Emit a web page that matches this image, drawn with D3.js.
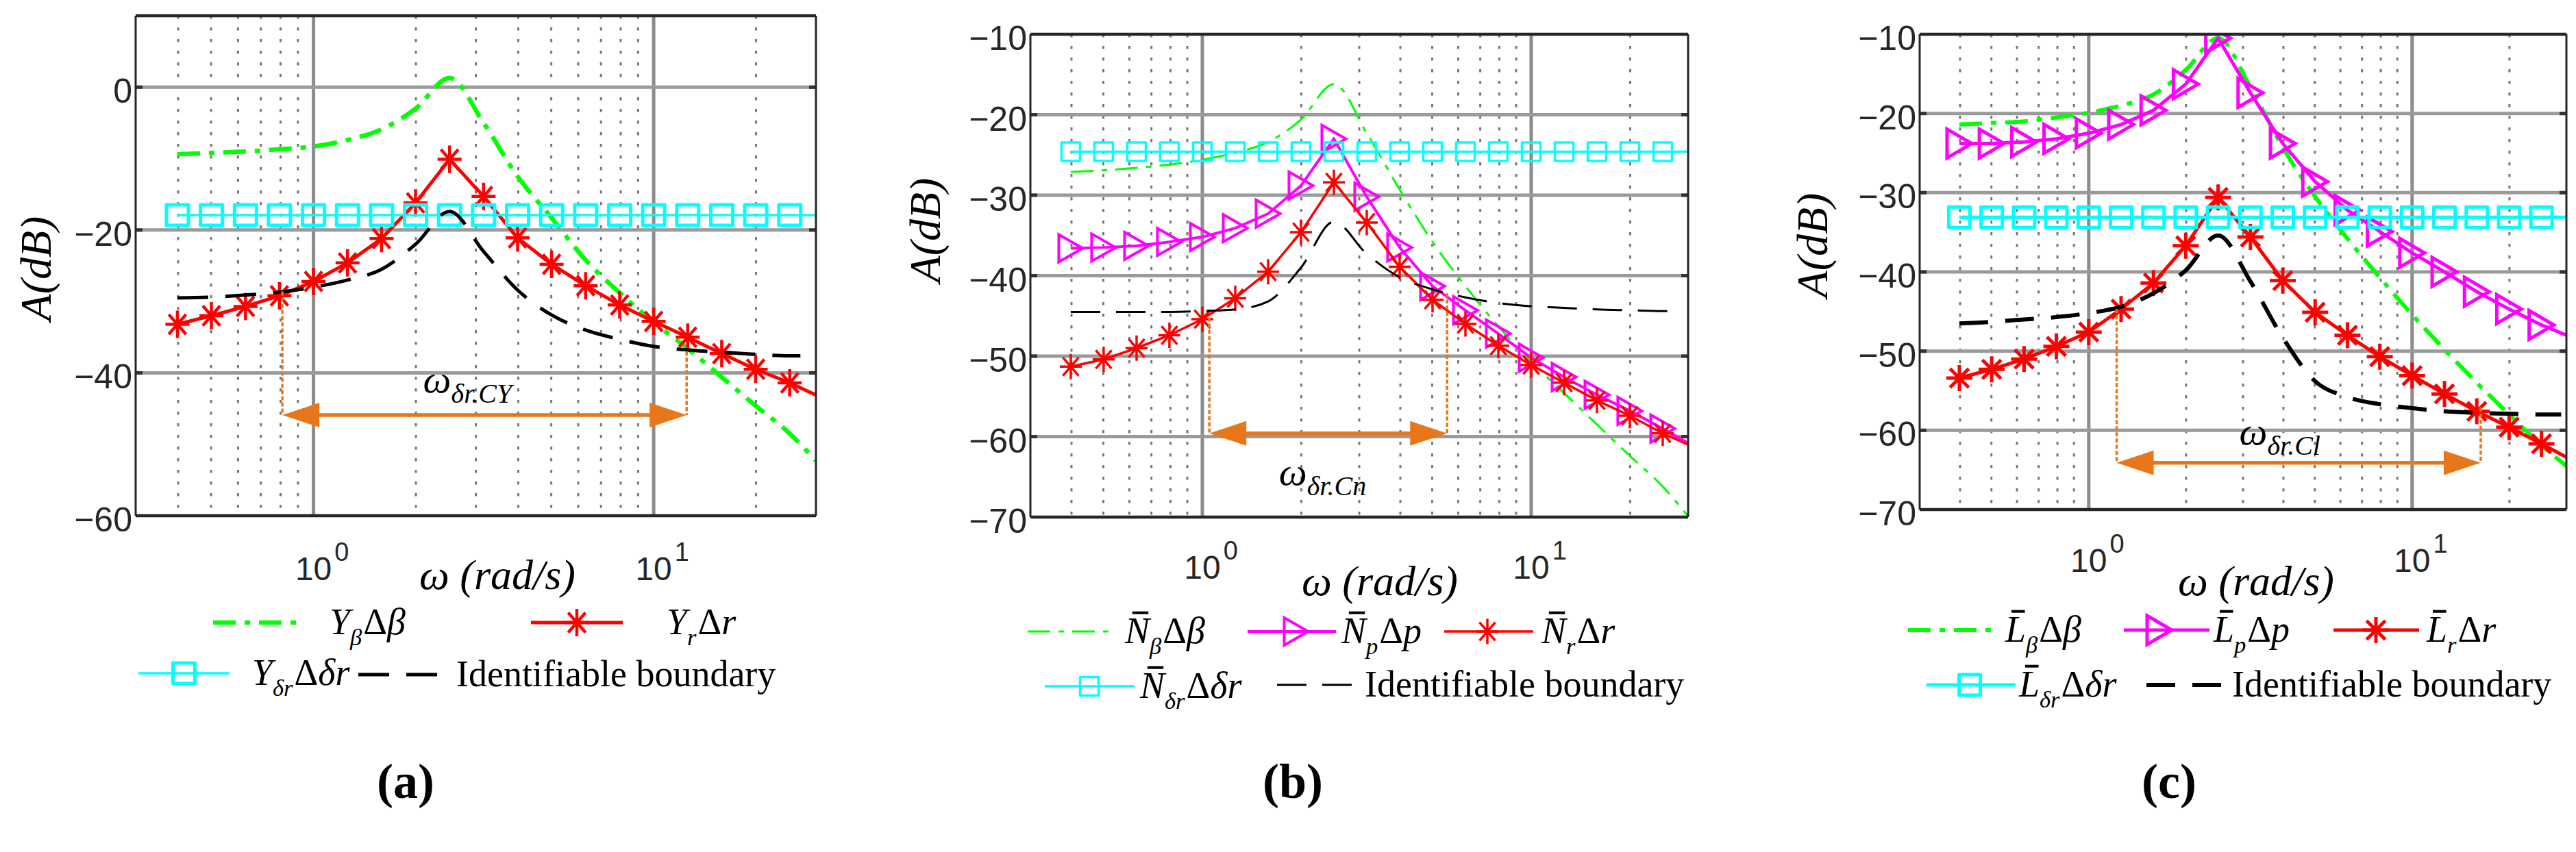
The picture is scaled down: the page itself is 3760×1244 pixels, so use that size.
<!DOCTYPE html>
<html>
<head>
<meta charset="utf-8">
<script src="https://cdn.jsdelivr.net/npm/d3@7"></script>
<style>
  body { margin: 0; background: #fff; }
  svg { display: block; }
</style>
</head>
<body>
<svg id="fig"></svg>
<script>
// frequency grid (rad/s); markers sit on the first 19 points, lines run on to 30
const freqs = [0.398, 0.501, 0.631, 0.794, 1.0, 1.259, 1.585, 1.995, 2.512, 3.162,
               3.981, 5.012, 6.310, 7.943, 10.0, 12.59, 15.85, 19.95, 25.12, 30.0];

// panel (a)  -- A(dB)
const betaA  = [-9.4, -9.2, -9.0, -8.7, -8.3, -7.4, -5.9, -3.0, 1.3, -5.0,
                -12.5, -18.3, -24.2, -28.8, -32.9, -36.6, -40.6, -44.6, -48.5, -52.3];
const rA     = [-33.2, -32.0, -30.7, -29.2, -27.2, -24.6, -21.2, -16.2, -10.1, -15.3,
                -21.1, -24.8, -27.8, -30.5, -32.8, -35.0, -37.3, -39.5, -41.4, -43.1];
const drA    = -17.9;
const bndA   = [-29.5, -29.4, -29.1, -28.7, -28.0, -27.0, -25.5, -22.0, -17.4, -23.0,
                -28.4, -31.9, -34.0, -35.3, -36.3, -36.8, -37.1, -37.4, -37.6];
const bndEndA = [27.0, -37.6];
const bandA  = [0.81, 12.5, -45.9, -28.6, -37.0];   // lo, hi, arrow level, top at lo, top at hi
const noteA  = [2.1, -42.7];

// panel (b)
const betaB  = [-27.1, -26.9, -26.6, -26.2, -25.6, -24.7, -23.4, -20.6, -16.2, -22.3,
                -29.3, -35.8, -41.3, -46.3, -50.7, -54.6, -58.5, -62.4, -66.2, -69.9];
const pB     = [-36.6, -36.5, -36.3, -35.8, -35.2, -34.1, -32.3, -28.8, -23.0, -30.2,
                -36.5, -41.3, -44.3, -47.2, -50.2, -52.6, -54.8, -56.8, -59.0, -60.8];
const rB     = [-51.3, -50.4, -49.0, -47.4, -45.4, -42.8, -39.5, -34.6, -28.4, -33.4,
                -38.9, -43.0, -46.0, -48.7, -51.1, -53.3, -55.5, -57.4, -59.6, -61.0];
const drB    = -24.6;
const bndB   = [-44.5, -44.5, -44.5, -44.5, -44.4, -44.2, -43.2, -39.0, -33.3, -37.3,
                -40.2, -41.7, -42.7, -43.4, -43.8, -44.0, -44.2, -44.3, -44.4];
const bndEndB = [27.6, -44.4];
const bandB  = [1.05, 5.55, -59.6, -45.2, -42.2];
const noteB  = [1.71, -66.0];

// panel (c)
const betaC  = [-21.4, -21.2, -21.0, -20.5, -19.9, -19.0, -17.6, -14.5, -10.5, -16.7,
                -24.3, -30.5, -35.8, -40.7, -45.4, -49.8, -54.0, -58.0, -61.9, -64.5];
const pC     = [-23.8, -23.8, -23.6, -23.2, -22.5, -21.4, -19.6, -16.3, -10.5, -17.4,
                -23.8, -28.6, -32.2, -34.9, -37.6, -40.0, -42.5, -44.7, -46.7, -48.0];
const rC     = [-53.4, -52.3, -51.0, -49.4, -47.6, -44.7, -41.4, -36.7, -30.6, -35.6,
                -41.1, -45.1, -48.0, -50.7, -53.1, -55.4, -57.6, -59.6, -61.7, -63.4];
const drC    = -33.1;
const bndC   = [-46.5, -46.3, -46.0, -45.7, -45.2, -44.4, -42.7, -39.8, -35.4, -41.2,
                -48.3, -53.8, -55.8, -56.7, -57.2, -57.6, -57.8, -57.9, -58.0];
const bndEndC = [28.9, -58.0];
const bandC  = [1.22, 16.3, -64.1, -44.7, -57.1];
const noteC  = [2.92, -61.8];

const xDomain = [0.3, 30];
const xMajor = [1, 10];
const xMinor = [0.4, 0.5, 0.6, 0.7, 0.8, 0.9, 2, 3, 4, 5, 6, 7, 8, 9, 20];
const yTicksA = [0, -20, -40, -60];
const yTicksBC = [-10, -20, -30, -40, -50, -60, -70];

const SERIF = "'Liberation Serif','Times New Roman',serif";
const SANS = "'Liberation Sans',Arial,sans-serif";
const GREEN = "#00ff00", RED = "#ff0000", CYAN = "#00ffff", MAG = "#ff00ff", ORANGE = "#e8761a";

const svg = d3.select("#fig").attr("width", 3760).attr("height", 1244);
svg.append("rect").attr("width", 3760).attr("height", 1244).attr("fill", "#fff");

const zip = (vals, n) => vals.slice(0, n || vals.length).map((v, i) => [freqs[i], v]);

const panels = [
  {
    id: "a", box: [198, 1191, 23, 753], yDom: [-60, 10], yTicks: yTicksA, yGrid: [0, -20, -40],
    ylab: [52, 392], xlabY: 847, omega: [726, 860], tag: [592, 1165],
    lw: {g: 6.5, p: 5, r: 5, c: 3.5, b: 5}, gDash: "33,13,8,13", bDash: "45,25",
    star: [17.5, 20, 4.5], tri: [18, 21, 5], sq: [32, 30, 5],
    series: {g: betaA, r: rA, c: drA, b: bndA, bEnd: bndEndA},
    band: bandA, note: noteA, noteSub: "δr.CY",
    legend: [
      {type: "g", x1: 311, x2: 440, y: 909, tx: 481, segs: [{t: "Y", i: 1}, {t: "β", sub: 1, i: 1}, {t: "Δ"}, {t: "β", i: 1}]},
      {type: "r", x1: 775, x2: 909, y: 909, tx: 973, segs: [{t: "Y", i: 1}, {t: "r", sub: 1, i: 1}, {t: "Δ"}, {t: "r", i: 1}]},
      {type: "c", x1: 202, x2: 335, y: 983, tx: 368, segs: [{t: "Y", i: 1}, {t: "δr", sub: 1, i: 1}, {t: "Δ"}, {t: "δr", i: 1}]},
      {type: "b", x1: 523, x2: 638, y: 985, tx: 666, segs: [{t: "Identifiable boundary"}]}
    ]
  },
  {
    id: "b", box: [1504, 2464, 50, 755], yDom: [-70, -10], yTicks: yTicksBC, yGrid: [-20, -30, -40, -50, -60],
    ylab: [1350, 336], xlabY: 845, omega: [2014, 869], tag: [1887, 1165],
    lw: {g: 3, p: 4, r: 3.5, c: 3.5, b: 3}, gDash: "33,12,8,12", bDash: "43,23",
    star: [16, 18.5, 3.5], tri: [17.5, 20, 4], sq: [27, 27, 3.5],
    series: {g: betaB, p: pB, r: rB, c: drB, b: bndB, bEnd: bndEndB},
    band: bandB, note: noteB, noteSub: "δr.Cn",
    legend: [
      {type: "g", x1: 1500, x2: 1625, y: 922, tx: 1642, segs: [{t: "N", i: 1, bar: 1}, {t: "β", sub: 1, i: 1}, {t: "Δ"}, {t: "β", i: 1}]},
      {type: "p", x1: 1821, x2: 1950, y: 922, mx: 1892, tx: 1958, segs: [{t: "N", i: 1, bar: 1}, {t: "p", sub: 1, i: 1}, {t: "Δ"}, {t: "p", i: 1}]},
      {type: "r", x1: 2108, x2: 2238, y: 922, mx: 2171, tx: 2250, segs: [{t: "N", i: 1, bar: 1}, {t: "r", sub: 1, i: 1}, {t: "Δ"}, {t: "r", i: 1}]},
      {type: "c", x1: 1525, x2: 1656, y: 1002, mx: 1590, tx: 1664, segs: [{t: "N", i: 1, bar: 1}, {t: "δr", sub: 1, i: 1}, {t: "Δ"}, {t: "δr", i: 1}]},
      {type: "b", x1: 1864, x2: 1975, y: 1000, tx: 1992, segs: [{t: "Identifiable boundary"}]}
    ]
  },
  {
    id: "c", box: [2802, 3746, 50, 744], yDom: [-70, -10], yTicks: yTicksBC, yGrid: [-20, -30, -40, -50, -60],
    ylab: [2645, 358], xlabY: 835, omega: [3293, 869], tag: [3166, 1165],
    lw: {g: 6, p: 5, r: 5, c: 5, b: 6}, gDash: "33,13,8,13", bDash: "42,25",
    star: [19, 19, 5], tri: [18, 21, 5], sq: [31, 30, 5],
    series: {g: betaC, p: pC, r: rC, c: drC, b: bndC, bEnd: bndEndC},
    band: bandC, note: noteC, noteSub: "δr.Cl",
    legend: [
      {type: "g", x1: 2785, x2: 2910, y: 920, tx: 2927, segs: [{t: "L", i: 1, bar: 1}, {t: "β", sub: 1, i: 1}, {t: "Δ"}, {t: "β", i: 1}]},
      {type: "p", x1: 3100, x2: 3225, y: 920, mx: 3152, tx: 3231, segs: [{t: "L", i: 1, bar: 1}, {t: "p", sub: 1, i: 1}, {t: "Δ"}, {t: "p", i: 1}]},
      {type: "r", x1: 3406, x2: 3531, y: 920, mx: 3468, tx: 3542, segs: [{t: "L", i: 1, bar: 1}, {t: "r", sub: 1, i: 1}, {t: "Δ"}, {t: "r", i: 1}]},
      {type: "c", x1: 2812, x2: 2942, y: 1000, mx: 2875, tx: 2947, segs: [{t: "L", i: 1, bar: 1}, {t: "δr", sub: 1, i: 1}, {t: "Δ"}, {t: "δr", i: 1}]},
      {type: "b", x1: 3133, x2: 3243, y: 1000, tx: 3258, segs: [{t: "Identifiable boundary"}]}
    ]
  }
];

// ---- marker shapes ----
function drawStar(g, cx, cy, st, color) {
  const [rx, ry, w] = st;
  const dx = rx * 0.72, dy = ry * 0.72;
  g.append("path")
    .attr("d", `M${cx - rx},${cy}H${cx + rx}M${cx},${cy - ry}V${cy + ry}` +
               `M${cx - dx},${cy - dy}L${cx + dx},${cy + dy}M${cx - dx},${cy + dy}L${cx + dx},${cy - dy}`)
    .attr("stroke", color).attr("stroke-width", w).attr("fill", "none");
}
function drawTri(g, cx, cy, tr, color) {
  const [a, h, w] = tr;
  g.append("path")
    .attr("d", `M${cx - a},${cy - h}L${cx + a},${cy}L${cx - a},${cy + h}Z`)
    .attr("stroke", color).attr("stroke-width", w).attr("fill", "none")
    .attr("stroke-linejoin", "miter");
}
function drawSq(g, cx, cy, sq, color) {
  const [sw, sh, w] = sq;
  g.append("rect").attr("x", cx - sw / 2).attr("y", cy - sh / 2).attr("width", sw).attr("height", sh)
    .attr("stroke", color).attr("stroke-width", w).attr("fill", "none").attr("stroke-linejoin", "round");
}

// text made of pieces: italic letters, subscripts, overbars
function richText(g, x, y, segs, size) {
  let cx = x;
  segs.forEach(s => {
    const fs = s.sub ? size * 0.64 : size;
    const t = g.append("text")
      .attr("x", cx).attr("y", y + (s.sub ? size * 0.3 : 0))
      .attr("font-family", SERIF)
      .attr("font-style", s.i ? "italic" : "normal")
      .attr("font-size", fs).attr("fill", "#000")
      .text(s.t);
    const w = t.node().getComputedTextLength();
    if (s.bar) {
      g.append("line")
        .attr("x1", cx + w * 0.3).attr("x2", cx + w * 0.95)
        .attr("y1", y - size * 0.82).attr("y2", y - size * 0.82)
        .attr("stroke", "#000").attr("stroke-width", 4);
    }
    cx += w + (s.sub ? 2 : 0);
  });
}

function drawPanel(p) {
  const [L, R, T, B] = p.box;
  const g = svg.append("g").attr("id", "panel-" + p.id);

  const x = d3.scaleLog().domain(xDomain).range([L, R]);
  const y = d3.scaleLinear().domain(p.yDom).range([B, T]);

  const clipId = "clip-" + p.id;
  g.append("clipPath").attr("id", clipId)
    .append("rect").attr("x", L).attr("y", T).attr("width", R - L).attr("height", B - T);

  // grid
  g.selectAll(".minor").data(xMinor).join("line")
    .attr("x1", d => x(d)).attr("x2", d => x(d)).attr("y1", T).attr("y2", B)
    .attr("stroke", "#777").attr("stroke-width", 3).attr("stroke-dasharray", "4.5,12.5");
  g.selectAll(".major").data(xMajor).join("line")
    .attr("x1", d => x(d)).attr("x2", d => x(d)).attr("y1", T).attr("y2", B)
    .attr("stroke", "#8c8c8c").attr("stroke-width", 5);
  g.selectAll(".hgrid").data(p.yGrid).join("line")
    .attr("x1", L).attr("x2", R).attr("y1", d => y(d)).attr("y2", d => y(d))
    .attr("stroke", "#9a9a9a").attr("stroke-width", 5);
  // inner tick stubs
  g.selectAll(".tl").data(p.yGrid).join("line")
    .attr("x1", L).attr("x2", L + 10).attr("y1", d => y(d)).attr("y2", d => y(d))
    .attr("stroke", "#333").attr("stroke-width", 5);
  g.selectAll(".tr").data(p.yGrid).join("line")
    .attr("x1", R - 10).attr("x2", R).attr("y1", d => y(d)).attr("y2", d => y(d))
    .attr("stroke", "#333").attr("stroke-width", 5);

  // y tick labels
  g.selectAll(".ylab").data(p.yTicks).join("text")
    .attr("x", L - 5).attr("y", d => y(d) + 6)
    .attr("text-anchor", "end").attr("dominant-baseline", "central")
    .attr("font-family", SANS).attr("font-size", 50).attr("fill", "#262626")
    .text(d => d3.format("d")(d).replace("-", "\u2212"));

  // x tick labels 10^0, 10^1
  xMajor.forEach((v, i) => {
    const t = g.append("text").attr("x", x(v)).attr("y", p.xlabY)
      .attr("text-anchor", "middle").attr("font-family", SANS)
      .attr("font-size", 48).attr("fill", "#262626").text("10");
    const w = t.node().getComputedTextLength();
    g.append("text").attr("x", x(v) + w / 2 + 4).attr("y", p.xlabY - 28)
      .attr("font-family", SANS).attr("font-size", 38).attr("fill", "#262626")
      .text(String(i));
  });

  // axis titles
  g.append("text")
    .attr("transform", `translate(${p.ylab[0]},${p.ylab[1]}) rotate(-90)`)
    .attr("text-anchor", "middle").attr("dominant-baseline", "central")
    .attr("font-family", SERIF).attr("font-style", "italic").attr("font-size", 64)
    .text("A(dB)");
  g.append("text").attr("x", p.omega[0]).attr("y", p.omega[1])
    .attr("text-anchor", "middle").attr("font-family", SERIF).attr("font-style", "italic")
    .attr("font-size", 62).text("ω (rad/s)");
  g.append("text").attr("x", p.tag[0]).attr("y", p.tag[1])
    .attr("text-anchor", "middle").attr("font-family", SERIF).attr("font-weight", "bold")
    .attr("font-size", 72).text(`(${p.id})`);

  // data
  const plot = g.append("g").attr("clip-path", `url(#${clipId})`);
  const smooth = d3.line().x(d => x(d[0])).y(d => y(d[1])).curve(d3.curveMonotoneX);
  const straight = d3.line().x(d => x(d[0])).y(d => y(d[1]));
  const S = p.series;

  plot.append("path").attr("d", smooth(zip(S.g)))
    .attr("fill", "none").attr("stroke", GREEN).attr("stroke-width", p.lw.g)
    .attr("stroke-dasharray", p.gDash);

  if (S.p) {
    const pts = zip(S.p);
    plot.append("path").attr("d", straight(pts))
      .attr("fill", "none").attr("stroke", MAG).attr("stroke-width", p.lw.p);
    pts.slice(0, 19).forEach(d => drawTri(plot, x(d[0]), y(d[1]), p.tri, MAG));
  }

  const rp = zip(S.r);
  plot.append("path").attr("d", straight(rp))
    .attr("fill", "none").attr("stroke", RED).attr("stroke-width", p.lw.r);
  rp.slice(0, 19).forEach(d => drawStar(plot, x(d[0]), y(d[1]), p.star, RED));

  const cp = freqs.map(f => [f, S.c]);
  plot.append("path").attr("d", straight(cp))
    .attr("fill", "none").attr("stroke", CYAN).attr("stroke-width", p.lw.c);
  cp.slice(0, 19).forEach(d => drawSq(plot, x(d[0]), y(d[1]), p.sq, CYAN));

  const bp = zip(S.b).concat([S.bEnd]);
  plot.append("path").attr("d", smooth(bp))
    .attr("fill", "none").attr("stroke", "#000").attr("stroke-width", p.lw.b)
    .attr("stroke-dasharray", p.bDash);

  // identifiable band annotation
  const [lo, hi, ay, loTop, hiTop] = p.band;
  const x0 = x(lo), x1 = x(hi), yy = y(ay);
  [[lo, loTop], [hi, hiTop]].forEach(([f, top]) => {
    g.append("line").attr("x1", x(f)).attr("x2", x(f)).attr("y1", y(top)).attr("y2", yy)
      .attr("stroke", ORANGE).attr("stroke-width", 3.5).attr("stroke-dasharray", "6,3");
  });
  g.append("line").attr("x1", x0 + 40).attr("x2", x1 - 40).attr("y1", yy).attr("y2", yy)
    .attr("stroke", ORANGE).attr("stroke-width", 5.5);
  g.append("path").attr("d", `M${x0},${yy}L${x0 + 54},${yy - 18}L${x0 + 54},${yy + 18}Z`).attr("fill", ORANGE);
  g.append("path").attr("d", `M${x1},${yy}L${x1 - 54},${yy - 18}L${x1 - 54},${yy + 18}Z`).attr("fill", ORANGE);

  const nx = x(p.note[0]), ny = y(p.note[1]);
  const om = g.append("text").attr("x", nx).attr("y", ny)
    .attr("font-family", SERIF).attr("font-style", "italic").attr("font-size", 58).text("ω");
  const ow = om.node().getComputedTextLength();
  g.append("text").attr("x", nx + ow).attr("y", ny + 15)
    .attr("font-family", SERIF).attr("font-style", "italic").attr("font-size", 40).text(p.noteSub);

  // frame
  g.append("line").attr("x1", L).attr("x2", R).attr("y1", T).attr("y2", T).attr("stroke", "#262626").attr("stroke-width", 4.5);
  g.append("line").attr("x1", L).attr("x2", R).attr("y1", B).attr("y2", B).attr("stroke", "#262626").attr("stroke-width", 4.5);
  g.append("line").attr("x1", L).attr("x2", L).attr("y1", T).attr("y2", B).attr("stroke", "#262626").attr("stroke-width", 3);
  g.append("line").attr("x1", R).attr("x2", R).attr("y1", T).attr("y2", B).attr("stroke", "#262626").attr("stroke-width", 3);

  // legend
  p.legend.forEach(it => {
    const lg = g.append("g");
    const mx = it.mx || (it.x1 + it.x2) / 2;
    const seg = (color, w) => lg.append("line").attr("x1", it.x1).attr("x2", it.x2)
      .attr("y1", it.y).attr("y2", it.y).attr("stroke", color).attr("stroke-width", w);
    if (it.type === "g") {
      seg(GREEN, p.lw.g).attr("stroke-dasharray", p.gDash);
    } else if (it.type === "b") {
      seg("#000", p.lw.b).attr("stroke-dasharray", p.bDash);
    } else if (it.type === "r") {
      seg(RED, p.lw.r);
      drawStar(lg, mx, it.y, p.star, RED);
    } else if (it.type === "p") {
      seg(MAG, p.lw.p);
      drawTri(lg, mx, it.y, p.tri, MAG);
    } else if (it.type === "c") {
      seg(CYAN, p.lw.c);
      drawSq(lg, mx, it.y, p.sq, CYAN);
    }
    richText(lg, it.tx, it.y + 17, it.segs, 54);
  });
}

panels.forEach(drawPanel);
</script>
</body>
</html>
